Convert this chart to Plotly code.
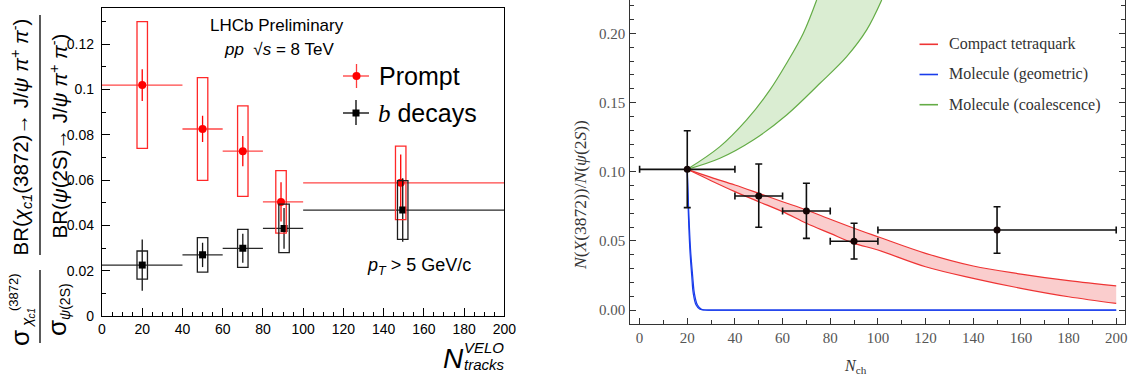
import plotly.graph_objects as go

W, H = 1135, 382

# ---------------- Left panel data (LHCb) ----------------
bins_lo = [0, 40, 60, 80, 100]
bins_hi = [40, 60, 80, 100, 200]

prompt_x = [20, 50, 70, 89, 148.5]
prompt_y = [0.102, 0.0826, 0.0728, 0.0504, 0.0588]
prompt_stat = [0.0070, 0.0058, 0.0067, 0.0087, 0.0125]
prompt_syst = [0.0280, 0.0227, 0.0200, 0.0138, 0.0162]

bdec_x = [20, 50, 70, 90.5, 149.5]
bdec_y = [0.0225, 0.0270, 0.0299, 0.0387, 0.0468]
bdec_stat = [0.0113, 0.0054, 0.0064, 0.0090, 0.0140]
bdec_syst = [0.0062, 0.0076, 0.0084, 0.0107, 0.0130]

box_halfwidth = 2.6

# ---------------- Right panel data (model comparison) ----------------
data_x = [20, 50, 70, 90, 150]
data_y = [0.1017, 0.0824, 0.0716, 0.0497, 0.0578]
data_err_up = [0.0279, 0.0232, 0.0200, 0.0130, 0.0169]
data_err_dn = [0.0277, 0.0226, 0.0198, 0.0128, 0.0168]
data_x_lo = [0, 40, 60, 80, 100]
data_x_hi = [40, 60, 80, 100, 200]

tetra_up_x = [20, 30, 40, 50, 60, 70, 80, 90, 100, 120, 140, 160, 180, 200]
tetra_up_y = [0.1017, 0.0959, 0.0904, 0.0844, 0.0783, 0.0723, 0.0656, 0.0591, 0.0530,
              0.0410, 0.0318, 0.0260, 0.0212, 0.0174]
tetra_lo_x = [20, 30, 40, 50, 60, 70, 80, 90, 100, 120, 140, 160, 180, 200]
tetra_lo_y = [0.1017, 0.0935, 0.0856, 0.0783, 0.0711, 0.0627, 0.0554, 0.0482, 0.0434,
              0.0313, 0.0229, 0.0157, 0.0096, 0.0048]

coal_up_x = [20, 33.7, 44.9, 54.7, 61.7, 68.7, 74.3]
coal_up_y = [0.1017, 0.1181, 0.1374, 0.1591, 0.1784, 0.2001, 0.2241]
coal_lo_x = [20, 33.7, 47.7, 61.7, 75.7, 86.9, 95.3, 101.6]
coal_lo_y = [0.1017, 0.1097, 0.1229, 0.1410, 0.1639, 0.1832, 0.2025, 0.2241]

geo1_x = [20, 20.4, 21.1, 21.9, 22.5, 23.7, 25.3, 28.2, 40, 200]
geo1_y = [0.1017, 0.0723, 0.0434, 0.0241, 0.0121, 0.0036, 0.0005, 0.0, 0.0, 0.0]
geo2_x = [20, 20.6, 21.4, 22.3, 23.0, 24.3, 26.0, 29.0, 40, 200]
geo2_y = [0.1017, 0.0723, 0.0434, 0.0241, 0.0121, 0.0036, 0.0005, 0.0, 0.0, 0.0]

legend_labels = ["Compact tetraquark", "Molecule (geometric)", "Molecule (coalescence)"]
RED = "rgb(238,52,52)"
BLUE = "rgb(25,60,235)"
GREEN = "rgb(100,172,70)"
legend_colors = [RED, BLUE, GREEN]


def px(x):
    return x / W


def py(y):
    return 1 - y / H


fig = go.Figure()

# ---------- left panel ----------
shapes = []
for x, y, s in zip(prompt_x, prompt_y, prompt_syst):
    shapes.append(dict(type="rect", xref="x", yref="y", x0=x - box_halfwidth, x1=x + box_halfwidth,
                       y0=y - s, y1=y + s, line=dict(color="rgb(255,40,40)", width=1.3)))
for x, y, s in zip(bdec_x, bdec_y, bdec_syst):
    shapes.append(dict(type="rect", xref="x", yref="y", x0=x - box_halfwidth, x1=x + box_halfwidth,
                       y0=y - s, y1=y + s, line=dict(color="rgb(30,30,30)", width=1.3)))

fig.add_trace(go.Scatter(
    x=prompt_x, y=prompt_y, mode="markers", xaxis="x", yaxis="y",
    marker=dict(symbol="circle", size=8, color="rgb(255,0,0)"),
    error_y=dict(type="data", array=prompt_stat, color="rgb(255,0,0)", thickness=1.3, width=0),
    error_x=dict(type="data", array=[h - x for h, x in zip(bins_hi, prompt_x)],
                 arrayminus=[x - l for l, x in zip(bins_lo, prompt_x)],
                 color="rgb(255,70,70)", thickness=1.3, width=0),
))
fig.add_trace(go.Scatter(
    x=bdec_x, y=bdec_y, mode="markers", xaxis="x", yaxis="y",
    marker=dict(symbol="square", size=7, color="black"),
    error_y=dict(type="data", array=bdec_stat, color="rgb(20,20,20)", thickness=1.3, width=0),
    error_x=dict(type="data", array=[h - x for h, x in zip(bins_hi, bdec_x)],
                 arrayminus=[x - l for l, x in zip(bins_lo, bdec_x)],
                 color="rgb(40,40,40)", thickness=1.3, width=0),
))

# ---------- right panel ----------
fig.add_trace(go.Scatter(x=tetra_lo_x, y=tetra_lo_y, mode="lines", xaxis="x2", yaxis="y2",
                         line=dict(color=RED, width=1.2, shape="spline")))
fig.add_trace(go.Scatter(x=tetra_up_x, y=tetra_up_y, mode="lines", xaxis="x2", yaxis="y2",
                         line=dict(color=RED, width=1.2, shape="spline"),
                         fill="tonexty", fillcolor="rgba(240,90,90,0.30)"))
fig.add_trace(go.Scatter(x=coal_lo_x, y=coal_lo_y, mode="lines", xaxis="x2", yaxis="y2",
                         line=dict(color=GREEN, width=1.2, shape="spline")))
fig.add_trace(go.Scatter(x=coal_up_x, y=coal_up_y, mode="lines", xaxis="x2", yaxis="y2",
                         line=dict(color=GREEN, width=1.2, shape="spline"),
                         fill="tonexty", fillcolor="rgba(120,190,90,0.27)"))
fig.add_trace(go.Scatter(x=geo1_x, y=geo1_y, mode="lines", xaxis="x2", yaxis="y2",
                         line=dict(color=BLUE, width=1.2, shape="spline")))
fig.add_trace(go.Scatter(x=geo2_x, y=geo2_y, mode="lines", xaxis="x2", yaxis="y2",
                         line=dict(color=BLUE, width=1.2, shape="spline"),
                         fill="tonexty", fillcolor="rgba(25,60,235,0.3)"))
fig.add_trace(go.Scatter(
    x=data_x, y=data_y, mode="markers", xaxis="x2", yaxis="y2",
    marker=dict(symbol="circle", size=7, color="rgb(20,5,5)"),
    error_y=dict(type="data", array=data_err_up, arrayminus=data_err_dn,
                 color="rgb(15,15,15)", thickness=1.6, width=3.5),
    error_x=dict(type="data", array=[h - x for h, x in zip(data_x_hi, data_x)],
                 arrayminus=[x - l for l, x in zip(data_x_lo, data_x)],
                 color="rgb(15,15,15)", thickness=1.6, width=3.5),
))

# ---------- left legend glyphs ----------
shapes += [
    dict(type="line", xref="paper", yref="paper", x0=px(343), x1=px(369), y0=py(76), y1=py(76),
         line=dict(color="rgb(255,60,60)", width=1.3)),
    dict(type="line", xref="paper", yref="paper", x0=px(356.5), x1=px(356.5), y0=py(64), y1=py(88),
         line=dict(color="rgb(255,60,60)", width=1.3)),
    dict(type="circle", xref="paper", yref="paper", x0=px(352.5), x1=px(360.5), y0=py(72), y1=py(80),
         fillcolor="rgb(255,0,0)", line=dict(color="rgb(255,0,0)", width=0)),
    dict(type="line", xref="paper", yref="paper", x0=px(343), x1=px(369), y0=py(113), y1=py(113),
         line=dict(color="black", width=1.3)),
    dict(type="line", xref="paper", yref="paper", x0=px(356), x1=px(356), y0=py(100), y1=py(125),
         line=dict(color="black", width=1.3)),
    dict(type="rect", xref="paper", yref="paper", x0=px(352.5), x1=px(359.5), y0=py(109.5), y1=py(116.5),
         fillcolor="black", line=dict(color="black", width=0)),
    # y-title fraction bars
    dict(type="line", xref="paper", yref="paper", x0=px(40), x1=px(40), y0=py(15), y1=py(255),
         line=dict(color="black", width=1.3)),
    dict(type="line", xref="paper", yref="paper", x0=px(40), x1=px(40), y0=py(270), y1=py(343),
         line=dict(color="black", width=1.3)),
]
for i, c in enumerate(legend_colors):
    yy = 44.3 + 30.2 * i
    shapes.append(dict(type="line", xref="paper", yref="paper", x0=px(919.5), x1=px(938), y0=py(yy), y1=py(yy),
                       line=dict(color=c, width=1.6)))

SANS = "Liberation Sans, Arial, sans-serif"
SERIF = "Liberation Serif, Times New Roman, serif"

ann = []


def A(text, x, y, size, family=SANS, color="black", angle=0, xanchor="center", yanchor="middle"):
    ann.append(dict(text=text, x=px(x), y=py(y), xref="paper", yref="paper", showarrow=False,
                    font=dict(family=family, size=size, color=color), textangle=angle,
                    xanchor=xanchor, yanchor=yanchor))


A("LHCb Preliminary", 277, 25, 17)
A("<i>pp</i>  √<i>s</i> = 8 TeV", 279, 50, 17)
A("Prompt", 377, 76, 25, xanchor="left")
A("<span style='font-family:Liberation Serif'><i>b</i></span> decays", 376, 113, 25, xanchor="left")
A("<i>p</i><sub><i>T</i></sub> > 5 GeV/c", 419, 266, 18)
# x title left
A("<i>N</i>", 453, 358, 28)
A("<i>VELO</i>", 484, 347.5, 15)
A("<i>tracks</i>", 484, 364.5, 15)
# y title left
A("BR(<i>χ</i><sub><i>c1</i></sub>(3872)→ J/<i>ψ</i> <i>π</i><sup>+</sup> <i>π</i><sup>-</sup>)", 21, 137.5, 20.5, angle=-90)
A("BR(<i>ψ</i>(2S)→ J/<i>ψ</i> <i>π</i><sup>+</sup> <i>π</i><sup>-</sup>)", 58, 136.5, 20.5, angle=-90)
A("σ", 20, 338, 26, angle=-90)
A("<i>χ</i>", 26, 323, 15, angle=-90)
A("<i>c1</i>", 31, 313.5, 10, angle=-90)
A("(3872)", 13, 292, 13, angle=-90)
A("σ", 57, 328, 26, angle=-90)
A("<i>ψ</i>(2S)", 65, 302, 14, angle=-90)

# right panel texts
for i, lab in enumerate(legend_labels):
    A(lab, 946.5, 44.3 + 30.2 * i, 16, family=SERIF, color="#333", xanchor="left")
A("<i>N</i>(<i>X</i>(3872))/<i>N</i>(<i>ψ</i>(2<i>S</i>))", 580, 195, 17.5, family=SERIF, color="#333", angle=-90)
A("<i>N</i><sub>ch</sub>", 855, 366, 16, family=SERIF, color="#333")

common_left = dict(showline=True, linecolor="black", linewidth=1.3, mirror=True, ticks="inside",
                   tickcolor="black", tickwidth=1, ticklen=8, showgrid=False, zeroline=False,
                   automargin=False, tickfont=dict(family=SANS, size=14, color="black"))
common_right = dict(showline=True, linecolor="#333", linewidth=1.3, ticks="inside",
                    tickcolor="#333", tickwidth=1, ticklen=6, showgrid=False, zeroline=False,
                    automargin=False, tickfont=dict(family=SERIF, size=15, color="#555"))

fig.update_layout(
    width=W, height=H, margin=dict(l=0, r=0, t=0, b=0, autoexpand=False),
    paper_bgcolor="white", plot_bgcolor="white", showlegend=False,
    xaxis=dict(domain=[px(102), px(504.3)], range=[0, 200], anchor="y", tick0=0, dtick=20,
               minor=dict(ticks="inside", ticklen=4, dtick=5, tickcolor="black", showgrid=False),
               **common_left),
    yaxis=dict(domain=[py(316), py(8.3)], range=[0, 0.1359], anchor="x", tick0=0, dtick=0.02,
               minor=dict(ticks="inside", ticklen=4, dtick=0.01, tickcolor="black", showgrid=False),
               ticklabelstandoff=4, **common_left),
    xaxis2=dict(domain=[px(629.5), px(1125.4)], range=[-4.24, 203.86], anchor="y2", tick0=0, dtick=20,
                mirror=False,
                minor=dict(ticks="inside", ticklen=3.5, dtick=10, tickcolor="#333", showgrid=False),
                **common_right),
    yaxis2=dict(domain=[py(324), 1.0], range=[-0.0101, 0.2241], anchor="x2", tick0=0, dtick=0.05,
                tickformat=".2f", mirror="ticks",
                minor=dict(ticks="inside", ticklen=4, dtick=0.01, tickcolor="#333", showgrid=False),
                **common_right),
    shapes=shapes, annotations=ann,
)

fig.write_html("out.html", config={"displayModeBar": False},
               post_script="document.body.style.margin='0';document.body.style.padding='0';"
                           "document.body.style.overflow='hidden';")
